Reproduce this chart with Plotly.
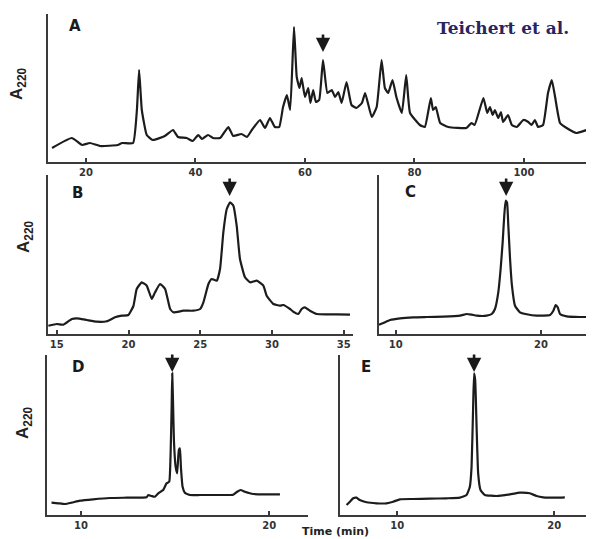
import plotly.graph_objects as go

# ---------------- data (time in min, relative A220) ----------------
a_time = [13.8, 17.4, 19.3, 20.7, 22.6, 25.8, 26.6, 28.6, 29.3, 29.7, 30.2, 31.1, 32.2, 34.4,
          35.9, 36.8, 38.4, 39.5, 40.5, 41.2, 42.3, 43.2, 44.5, 46.0, 46.9, 48.4, 49.4, 50.3,
          51.8, 52.7, 53.6, 54.5, 55.3, 56.0, 56.7, 57.3, 58.0, 58.5, 59.0, 59.4, 60.0, 60.6,
          61.0, 61.5, 62.0, 62.6, 63.3, 64.1, 64.9, 65.5, 66.1, 66.7, 67.6, 68.5, 69.4, 70.4,
          71.0, 72.2, 73.1, 74.0, 74.6, 75.2, 76.0, 76.7, 77.7, 78.5, 79.2, 81.0, 81.9, 83.0,
          83.4, 83.9, 84.7, 86.2, 89.5, 90.4, 91.0, 92.6, 93.3, 93.8, 94.3, 94.7, 95.3, 95.8,
          96.2, 97.1, 97.8, 98.7, 99.9, 100.8, 101.4, 102.0, 102.6, 103.5, 104.4, 105.1, 105.7,
          106.6, 107.8, 109.6, 111.5, 112.7]
a_abs = [14, 24, 17, 19, 16, 17, 19, 19, 52, 92, 52, 27, 22, 26,
         32, 25, 24, 21, 27, 23, 27, 24, 24, 35, 26, 28, 25, 32,
         42, 34, 44, 35, 35, 55, 67, 52, 135, 85, 74, 84, 65, 74,
         59, 72, 60, 62, 102, 69, 72, 65, 70, 59, 80, 57, 54, 59,
         69, 45, 55, 102, 74, 69, 82, 65, 49, 87, 49, 37, 35, 64,
         52, 55, 39, 35, 34, 39, 37, 64, 49, 55, 47, 52, 44, 50,
         40, 47, 37, 35, 42, 40, 37, 42, 35, 37, 69, 82, 65,
         39, 34, 29, 32, 33]

b_time = [14.41, 15.0, 15.46, 16.05, 16.39, 17.09, 17.79, 18.48, 19.06, 19.53, 19.99, 20.34,
          20.57, 20.92, 21.27, 21.62, 21.85, 22.2, 22.55, 22.9, 23.13, 23.82, 24.52, 24.99,
          25.22, 25.57, 25.8, 26.15, 26.38, 26.61, 26.85, 27.08, 27.31, 27.54, 27.77, 28.12,
          28.47, 28.94, 29.4, 29.63, 30.1, 30.56, 30.79, 31.26, 31.49, 31.84, 32.07, 32.3,
          32.65, 33.12, 33.82, 34.51, 35.44]
b_abs = [8.3, 10, 9.3, 15, 15.7, 14, 12.3, 12.7, 16.7, 18.3, 19, 28,
         45, 51.7, 48.3, 35, 41.7, 50, 45, 25, 21.7, 23.3, 23.3, 25,
         31.7, 50, 55, 53.3, 65, 101.7, 125, 131.7, 128.3, 108.3, 75, 56.7,
         51.7, 53.3, 48.3, 38.3, 30, 28.3, 29, 25, 22.3, 20, 25, 26.7,
         23.3, 20, 19.7, 19.7, 19.3]

c_time = [8.85, 9.15, 9.61, 10.3, 11.21, 12.13, 13.28, 14.43, 14.89, 15.23, 15.57, 16.26,
          16.61, 16.83, 17.06, 17.22, 17.36, 17.47, 17.57, 17.66, 17.75, 17.87, 18.0, 18.21,
          18.55, 19.02, 19.7, 20.62, 20.85, 21.01, 21.15, 21.31, 21.77, 22.68, 23.65]
c_abs = [9.3, 11, 14, 15.7, 16.7, 17, 17.3, 18.3, 20, 19.3, 18.3, 18.3,
         20, 25, 41.7, 65, 91.7, 118.3, 133.3, 131.7, 108.3, 75, 48.3, 28.3,
         21.7, 19.7, 18.3, 19, 23.3, 29, 26.7, 20, 17.7, 17, 17]

d_time = [8.44, 8.79, 9.15, 9.51, 9.95, 10.65, 11.54, 12.43, 13.49, 13.58, 13.75, 13.93,
          14.11, 14.37, 14.55, 14.69, 14.76, 14.82, 14.85, 14.89, 14.94, 15.03, 15.11, 15.2,
          15.26, 15.31, 15.4, 15.52, 15.79, 16.32, 17.21, 18.09, 18.3, 18.48, 18.71, 19.15,
          19.86, 20.57]
d_abs = [12.3, 11.7, 11, 12.3, 14.3, 15.7, 17, 17.3, 17.7, 20, 19, 18.3,
         21.7, 25, 31.7, 33.3, 58.3, 108.3, 141.7, 115, 75, 48.3, 41.7, 65,
         66.7, 48.3, 28.3, 22.3, 20, 20, 20, 20.3, 23.3, 25, 23.3, 21,
         20.7, 20.7]

e_time = [6.78, 6.99, 7.2, 7.41, 7.62, 8.05, 8.69, 9.32, 9.75, 10.17, 11.02, 12.08, 13.15,
          13.99, 14.42, 14.63, 14.74, 14.84, 14.9, 14.97, 15.06, 15.16, 15.31, 15.59, 16.33,
          17.18, 17.82, 18.45, 18.88, 19.3, 20.15, 20.68]
e_abs = [10, 13.3, 16.7, 17.3, 15, 12.7, 11.7, 11.7, 13.3, 15.7, 16, 16.3, 16.7,
         17.3, 20, 28.3, 48.3, 108.3, 141.7, 135, 88.3, 41.7, 25, 20, 19,
         20.7, 22.3, 21.7, 19, 17.7, 17.3, 17.7]

a_ticks = [20, 40, 60, 80, 100]
b_ticks = [15, 20, 25, 30, 35]
cde_ticks = [10, 20]

panel_letters = ["A", "B", "C", "D", "E"]
arrow_times = [63.3, 27.05, 17.6, 14.85, 14.9]
arrow_tips = [110, 138, 138, 143, 143]

# page geometry: the page body has an 8 px margin, so the figure is offset by it
PAGE_W, PAGE_H = 594, 539
OFF = 8
W, H = PAGE_W - OFF, PAGE_H - OFF


def px_x(p):
    return (p - OFF) / W


def px_y(p):
    return 1 - (p - OFF) / H


LINE = "#1c1c1c"
AXC = "#3a3a3a"
tickfont = dict(family="DejaVu Sans", size=10, color="#333333", weight="bold")

fig = go.Figure()

series = [(a_time, a_abs), (b_time, b_abs), (c_time, c_abs), (d_time, d_abs), (e_time, e_abs)]
for i, (t, v) in enumerate(series):
    suffix = "" if i == 0 else str(i + 1)
    fig.add_trace(go.Scatter(x=t, y=v, mode="lines",
                             line=dict(color=LINE, width=2.2, shape="spline", smoothing=0.4),
                             xaxis="x" + suffix, yaxis="y" + suffix,
                             showlegend=False, hoverinfo="skip"))

# panel geometry (page pixels)
geo = [
    dict(x0=48, x1=600, y0=14, y1=162, xr=[13.06, 113.9], yr=[0, 148], ticks=a_ticks),
    dict(x0=47.5, x1=353, y0=175, y1=334, xr=[14.35, 35.65], yr=[0, 159], ticks=b_ticks),
    dict(x0=379, x1=600, y0=175, y1=334, xr=[8.85, 24.06], yr=[0, 159], ticks=cde_ticks),
    dict(x0=47, x1=308, y0=355, y1=515, xr=[8.2, 22.06], yr=[0, 160], ticks=cde_ticks),
    dict(x0=340, x1=600, y0=355, y1=515, xr=[6.36, 22.92], yr=[0, 160], ticks=cde_ticks),
]

layout = dict(width=W, height=H, margin=dict(l=0, r=0, t=0, b=0),
              paper_bgcolor="white", plot_bgcolor="rgba(0,0,0,0)", showlegend=False)

for i, g in enumerate(geo):
    suffix = "" if i == 0 else str(i + 1)
    layout["xaxis" + suffix] = dict(
        domain=[px_x(g["x0"]), min(1.0, px_x(g["x1"]))], range=g["xr"], anchor="y" + suffix,
        showline=True, linecolor=AXC, linewidth=2, showgrid=False, zeroline=False,
        ticks="inside", ticklen=4, tickwidth=1.5, tickcolor=AXC,
        tickvals=g["ticks"], tickfont=tickfont, fixedrange=True)
    layout["yaxis" + suffix] = dict(
        domain=[px_y(g["y1"]), px_y(g["y0"])], range=g["yr"], anchor="x" + suffix,
        showline=True, linecolor=AXC, linewidth=2, showgrid=False, zeroline=False,
        showticklabels=False, ticks="", fixedrange=True)

# x-axes that run to the page edge: adjust range to the clipped domain
for i, g in enumerate(geo):
    if px_x(g["x1"]) > 1.0:
        suffix = "" if i == 0 else str(i + 1)
        span = g["xr"][1] - g["xr"][0]
        frac = (W + OFF - g["x0"]) / (g["x1"] - g["x0"])
        layout["xaxis" + suffix]["range"] = [g["xr"][0], g["xr"][0] + span * frac]

fig.update_layout(**layout)

annotations = []
# arrows
for i in range(5):
    suffix = "" if i == 0 else str(i + 1)
    annotations.append(dict(x=arrow_times[i], y=arrow_tips[i], xref="x" + suffix, yref="y" + suffix,
                            text="", showarrow=True, ax=0, ay=-19, arrowhead=2, arrowsize=1.1,
                            arrowwidth=2.6, arrowcolor="#1a1a1a"))

# panel letters
letter_pos = [(75, 26), (77, 193), (410, 192), (78, 367), (366, 367)]
for lt, (lx, ly) in zip(panel_letters, letter_pos):
    annotations.append(dict(x=px_x(lx), y=px_y(ly), xref="paper", yref="paper", text=lt,
                            showarrow=False, xanchor="center", yanchor="middle",
                            font=dict(family="DejaVu Sans", size=15, color="#1a1a1a", weight="bold")))

# y-axis titles A220
ylab_pos = [(18, 84), (25, 237), (24, 423)]
for (lx, ly) in ylab_pos:
    annotations.append(dict(x=px_x(lx), y=px_y(ly), xref="paper", yref="paper",
                            text="A<sub>220</sub>", textangle=-90, showarrow=False,
                            xanchor="center", yanchor="middle",
                            font=dict(family="Liberation Sans Narrow, Liberation Sans", size=17,
                                      color="#222222", weight="bold")))

# x title
annotations.append(dict(x=px_x(335), y=px_y(531), xref="paper", yref="paper", text="Time (min)",
                        showarrow=False, xanchor="center", yanchor="middle",
                        font=dict(family="DejaVu Sans", size=11, color="#222222", weight="bold")))

# caption
annotations.append(dict(x=px_x(503), y=px_y(28), xref="paper", yref="paper", text="Teichert et al.",
                        showarrow=False, xanchor="center", yanchor="middle",
                        font=dict(family="DejaVu Serif", size=17, color="#2a2360", weight="bold")))

fig.update_layout(annotations=annotations)

fig.write_html("out.html")
